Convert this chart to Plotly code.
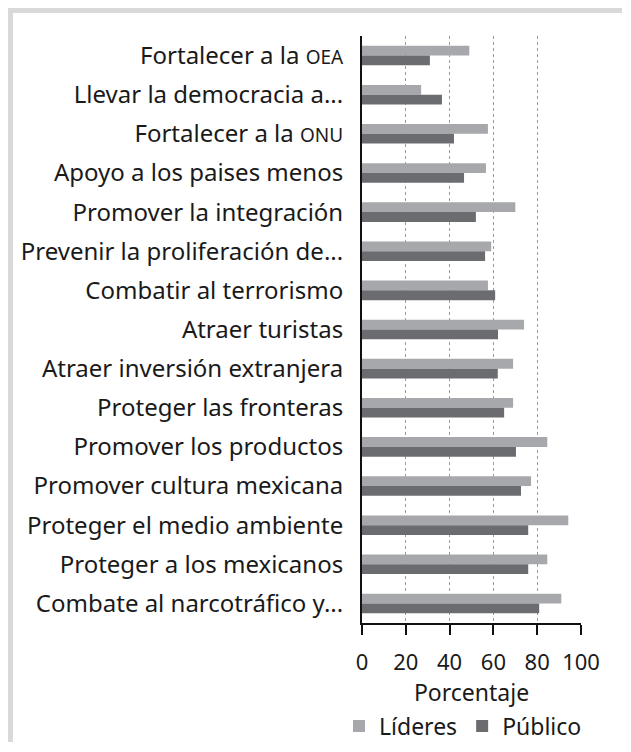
import plotly.graph_objects as go

categories = [
    "Fortalecer a la OEA",
    "Llevar la democracia a...",
    "Fortalecer a la ONU",
    "Apoyo a los paises menos",
    "Promover la integración",
    "Prevenir la proliferación de...",
    "Combatir al terrorismo",
    "Atraer turistas",
    "Atraer inversión extranjera",
    "Proteger las fronteras",
    "Promover los productos",
    "Promover cultura mexicana",
    "Proteger el medio ambiente",
    "Proteger a los mexicanos",
    "Combate al narcotráfico y...",
]
tick_labels = [
    "Fortalecer a la <span style='font-size:19px'>OEA</span>",
    "Llevar la democracia a...",
    "Fortalecer a la <span style='font-size:19px'>ONU</span>",
    "Apoyo a los paises menos",
    "Promover la integración",
    "Prevenir la proliferación de...",
    "Combatir al terrorismo",
    "Atraer turistas",
    "Atraer inversión extranjera",
    "Proteger las fronteras",
    "Promover los productos",
    "Promover cultura mexicana",
    "Proteger el medio ambiente",
    "Proteger a los mexicanos",
    "Combate al narcotráfico y...",
]
lideres = [49, 27, 57.5, 56.6, 70, 59, 57.5, 74, 69, 69, 84.6, 77.2, 94.2, 84.6, 91]
publico = [31, 36.5, 42, 46.6, 52, 56.2, 60.8, 62.1, 62, 64.9, 70.3, 72.6, 75.9, 75.9, 80.9]
x_ticks = [0, 20, 40, 60, 80, 100]

FONT = "Noto Sans"
TXT = "#1a1a1a"

fig = go.Figure()
fig.add_trace(go.Bar(y=categories, x=lideres, orientation="h", name="Líderes",
                     marker=dict(color="#a7a8ab", line=dict(width=0))))
fig.add_trace(go.Bar(y=categories, x=publico, orientation="h", name="Público",
                     marker=dict(color="#6b6c70", line=dict(width=0))))

# page has an 8px body margin; figure sized to stay inside the window
W, H = 615, 734
ML, MT = 354, 28
MR = W - 573
MB = H - 615
pw, ph = W - ML - MR, H - MT - MB

def px_x(p):
    return (p - ML) / pw

def px_y(p):
    return 1 - (p - MT) / ph

fig.update_layout(
    width=W, height=H,
    margin=dict(l=ML, r=MR, t=MT, b=MB, pad=0, autoexpand=False),
    paper_bgcolor="white", plot_bgcolor="white",
    barmode="group", bargap=0.5, bargroupgap=0,
    font=dict(family=FONT, size=24, color=TXT),
    showlegend=True,
    legend=dict(orientation="h", x=px_x(331), xanchor="left", y=px_y(718), yanchor="middle",
                font=dict(size=23, color=TXT), itemwidth=30, bgcolor="rgba(0,0,0,0)"),
    xaxis=dict(range=[0, 100], tickvals=x_ticks, ticktext=[str(v) for v in x_ticks],
               showgrid=True, gridcolor="#9a9a9a", griddash="dot", gridwidth=1,
               showline=True, linecolor="#111111", linewidth=2,
               ticks="outside", ticklen=10, tickwidth=2, tickcolor="#111111",
               tickfont=dict(size=22, color=TXT), ticklabelstandoff=9,
               title=dict(text="Porcentaje", font=dict(size=23, color=TXT), standoff=8),
               zeroline=False, fixedrange=True),
    yaxis=dict(autorange="reversed", tickvals=categories, ticktext=tick_labels,
               showline=True, linecolor="#111111", linewidth=2,
               ticks="", ticklabelstandoff=12, tickfont=dict(size=24, color=TXT),
               showgrid=False, fixedrange=True),
    shapes=[
        dict(type="line", xref="paper", yref="paper",
             x0=px_x(-1), x1=px_x(W - 1), y0=px_y(2), y1=px_y(2),
             line=dict(color="#d9d9d9", width=6), layer="below"),
        dict(type="line", xref="paper", yref="paper",
             x0=px_x(2), x1=px_x(2), y0=px_y(-1), y1=px_y(H),
             line=dict(color="#d9d9d9", width=6), layer="below"),
    ],
)

fig.write_html("out.html")
